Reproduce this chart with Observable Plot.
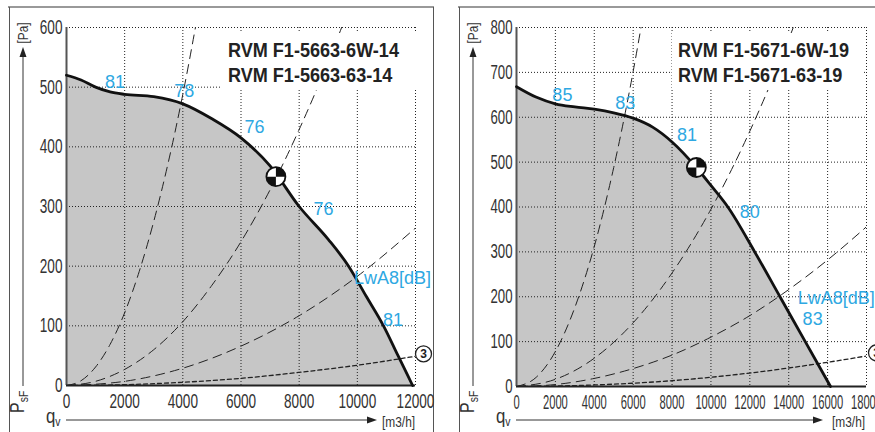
<!DOCTYPE html>
<html>
<head>
<meta charset="utf-8">
<script src="https://cdn.jsdelivr.net/npm/d3@7"></script>
<script src="https://cdn.jsdelivr.net/npm/@observablehq/plot@0.6"></script>
<style>
  body{margin:0;width:875px;height:432px;overflow:hidden;position:relative;background:#fff;
       font-family:"Liberation Sans",Arial,sans-serif;}
  .layer{position:absolute;left:0;top:0;}
  .panel{position:absolute;top:0;width:440px;height:432px;}
  .title{position:absolute;background:#fff;box-sizing:border-box;padding:4px 0 0 6px;overflow:hidden;}
  .title div{font-weight:bold;font-size:21px;line-height:25px;color:#222;white-space:nowrap;
         transform:scaleX(0.86);transform-origin:0 0;font-family:"Liberation Sans",Arial,sans-serif;}
</style>
</head>
<body>
<svg class="layer" width="875" height="432" style="z-index:0">
  <line x1="8" y1="7" x2="434" y2="7" stroke="#999" stroke-width="2"/>
  <line x1="9.5" y1="7" x2="9.5" y2="432" stroke="#555" stroke-width="1"/>
  <line x1="433.5" y1="7" x2="433.5" y2="432" stroke="#555" stroke-width="1"/>
  <line x1="458" y1="7" x2="875" y2="7" stroke="#999" stroke-width="2"/>
  <line x1="459.5" y1="7" x2="459.5" y2="432" stroke="#555" stroke-width="1"/>
</svg>
<div id="left" class="panel" style="left:0;z-index:1"></div>
<div id="right" class="panel" style="left:440px;z-index:1"></div>
<div class="title" style="left:222px;top:33px;width:206px;height:57px;z-index:2"><div>RVM F1-5663-6W-14<br>RVM F1-5663-63-14</div></div>
<div class="title" style="left:672px;top:33px;width:190px;height:57px;z-index:2"><div>RVM F1-5671-6W-19<br>RVM F1-5671-63-19</div></div>
<svg class="layer" width="875" height="432" style="z-index:3" font-family="Liberation Sans, Arial, sans-serif" fill="#333">
  <!-- left panel axis decorations -->
  <line x1="23" y1="54" x2="23" y2="386" stroke="#333" stroke-width="1"/>
  <polygon points="23,47 19.5,57 26.5,57" fill="#222"/>
  <text transform="translate(28,33) rotate(-90) scale(0.85,1)" text-anchor="middle" font-size="14">[Pa]</text>
  <text transform="translate(24,413) rotate(-90) scale(0.8,1)" font-size="20">P<tspan font-size="13" dy="4">sF</tspan></text>
  <text transform="translate(46,423) scale(0.8,1)" font-size="21">q<tspan font-size="13" dy="3">v</tspan></text>
  <line x1="66" y1="420" x2="370" y2="420" stroke="#333" stroke-width="1"/>
  <polygon points="377,420 367,416.5 367,423.5" fill="#222"/>
  <text transform="translate(382,427) scale(0.85,1)" font-size="14">[m3/h]</text>
  <!-- right panel axis decorations -->
  <line x1="473" y1="54" x2="473" y2="386" stroke="#333" stroke-width="1"/>
  <polygon points="473,47 469.5,57 476.5,57" fill="#222"/>
  <text transform="translate(478,33) rotate(-90) scale(0.85,1)" text-anchor="middle" font-size="14">[Pa]</text>
  <text transform="translate(474,413) rotate(-90) scale(0.8,1)" font-size="20">P<tspan font-size="13" dy="4">sF</tspan></text>
  <text transform="translate(496,423) scale(0.8,1)" font-size="21">q<tspan font-size="13" dy="3">v</tspan></text>
  <line x1="516" y1="420" x2="816" y2="420" stroke="#333" stroke-width="1"/>
  <polygon points="823,420 813,416.5 813,423.5" fill="#222"/>
  <text transform="translate(832,427) scale(0.85,1)" font-size="14">[m3/h]</text>
</svg>
<script>
// ---------- LEFT chart data (RVM F1-5663) ----------
const L_xTicks = [0, 2000, 4000, 6000, 8000, 10000, 12000];
const L_yTicks = [0, 100, 200, 300, 400, 500, 600];
const L_mainQ = [0, 500, 1000, 1500, 2000, 3000, 4000, 5000, 6000, 7000, 8000, 9000, 9700, 10300, 10900, 11400, 11900];
const L_mainP = [520, 512, 500, 492, 488, 484, 472, 447, 415, 368, 300, 245, 200, 150, 100, 50, 0];
const L_sys1Q = [0, 500, 1000, 1500, 2000, 2500, 3000, 3500, 4000, 4500];
const L_sys1P = [0, 8, 31, 69, 122, 191, 275, 374, 488, 618];
const L_sys2Q = [0, 1000, 2000, 3000, 4000, 5000, 6000, 7000, 8000, 9000, 9500];
const L_sys2P = [0, 7, 27, 60, 107, 168, 241, 328, 429, 543, 605];
const L_sys3Q = [0, 2000, 4000, 6000, 8000, 10000, 12000];
const L_sys3P = [0, 7, 29, 66, 117, 183, 264];
const L_sys4Q = [0, 2000, 4000, 6000, 8000, 10000, 12000];
const L_sys4P = [0, 1.4, 5.4, 12, 22, 34, 49];
const L_opQ = [7200];
const L_opP = [350];
const L_labText = ["81", "78", "76", "76", "LwA8[dB]", "81"];
const L_labQ = [1670, 4050, 6465, 8840, 11210, 11230];
const L_labP = [509, 493, 433, 296, 180, 109];
const L_c3Q = [12000];
const L_c3P = [53];

// ---------- RIGHT chart data (RVM F1-5671) ----------
const R_xTicks = [0, 2000, 4000, 6000, 8000, 10000, 12000, 14000, 16000, 18000];
const R_yTicks = [0, 100, 200, 300, 400, 500, 600, 700, 800];
const R_mainQ = [0, 1000, 2000, 3000, 4000, 5000, 6000, 7000, 8000, 9250, 10000, 10870, 12250, 13550, 14850, 16150];
const R_mainP = [668, 645, 630, 623, 618, 610, 598, 578, 545, 488, 448, 400, 300, 200, 100, 0];
const R_sys1Q = [0, 1000, 2000, 3000, 4000, 5000, 6000, 6500];
const R_sys1P = [0, 20, 78, 176, 312, 488, 702, 824];
const R_sys2Q = [0, 2000, 4000, 6000, 8000, 10000, 12000, 14000, 14500];
const R_sys2P = [0, 16, 63, 142, 253, 395, 569, 774, 830];
const R_sys3Q = [0, 2000, 4000, 6000, 8000, 10000, 12000, 14000, 16000, 18000];
const R_sys3P = [0, 4.4, 18, 40, 70, 110, 158, 216, 282, 356];
const R_sys4Q = [0, 4000, 8000, 12000, 16000, 18000];
const R_sys4P = [0, 3.4, 13, 30, 54, 68];
const R_opQ = [9250];
const R_opP = [488];
const R_labText = ["85", "83", "81", "80", "LwA8[dB]", "83"];
const R_labQ = [2360, 5590, 8770, 12000, 16440, 15230];
const R_labP = [650, 632, 559, 388, 197, 150];
const R_c3Q = [18000];
const R_c3P = [75];

// ---------- helpers ----------
const pts = (Q, P) => Q.map((q, i) => ({q, p: P[i]}));
const FONT = "Liberation Sans, Arial, sans-serif";
const BLUE = "#2ea8e2";
const quadSymbol = {
  draw(ctx, size) {
    const r = Math.sqrt(size / Math.PI);
    ctx.moveTo(0, 0); ctx.lineTo(0, -r); ctx.arc(0, 0, r, -Math.PI / 2, 0); ctx.closePath();
    ctx.moveTo(0, 0); ctx.lineTo(0, r); ctx.arc(0, 0, r, Math.PI / 2, Math.PI); ctx.closePath();
  }
};

// horizontally condense text (narrow, Helvetica-Condensed-like look) keeping its anchor fixed
function condense(svg, selector, sx) {
  svg.querySelectorAll(selector).forEach(el => {
    const t = el.getAttribute("transform") || "";
    const xa = el.getAttribute("x");
    let extra = "";
    if (xa != null && /^-?[\d.]+$/.test(xa.trim())) {
      extra = `translate(${xa},0)`;
      el.removeAttribute("x");
    }
    el.setAttribute("transform", `${t} ${extra} scale(${sx},1)`.trim());
  });
}

function chart(c) {
  const main = pts(c.mainQ, c.mainP);
  const op = pts(c.opQ, c.opP);
  const labs = c.labText.map((t, i) => ({t, q: c.labQ[i], p: c.labP[i]}));
  const c3 = pts(c.c3Q, c.c3P);
  const longDash = {x: "q", y: "p", stroke: "#222", strokeWidth: 1, strokeDasharray: "9,6", curve: "monotone-x", clip: true};
  const svg = Plot.plot({
    width: 440, height: 432,
    marginLeft: c.ml, marginRight: c.mr, marginTop: 27, marginBottom: c.mb,
    x: {domain: c.xDomain},
    y: {domain: c.yDomain},
    style: {fontFamily: FONT, fontSize: "20px", color: "#333", background: "transparent", maxWidth: "none", overflow: "visible"},
    marks: [
      Plot.areaY(main, {x: "q", y: "p", fill: "#c6c6c6", curve: "monotone-x"}),
      Plot.gridX(c.xTicks, {stroke: "#222", strokeOpacity: 1, strokeWidth: 1, strokeDasharray: "1,2"}),
      Plot.gridY(c.yTicks, {stroke: "#222", strokeOpacity: 1, strokeWidth: 1, strokeDasharray: "1,2"}),
      Plot.axisX(c.xTicks, {tickSize: 0, tickPadding: 8, tickFormat: d => String(d), label: null, fill: "#333"}),
      Plot.axisY(c.yTicks, {tickSize: 0, tickPadding: 4, tickFormat: d => String(d), label: null, fill: "#333"}),
      Plot.line(pts(c.sys1Q, c.sys1P), longDash),
      Plot.line(pts(c.sys2Q, c.sys2P), longDash),
      Plot.line(pts(c.sys3Q, c.sys3P), longDash),
      Plot.line(pts(c.sys4Q, c.sys4P), {x: "q", y: "p", stroke: "#222", strokeWidth: 1.3, strokeDasharray: "4,3", curve: "monotone-x", clip: true}),
      Plot.ruleX([0], {stroke: "#555", strokeWidth: 2}),
      Plot.ruleY([0], {stroke: "#222", strokeWidth: 2}),
      Plot.line(main, {x: "q", y: "p", stroke: "#111", strokeWidth: 2.8, curve: "monotone-x"}),
      Plot.dot(op, {x: "q", y: "p", r: 9.5, fill: "#fff", stroke: "none"}),
      Plot.dot(op, {x: "q", y: "p", r: 9.5, fill: "#111", symbol: quadSymbol, stroke: "none"}),
      Plot.dot(op, {x: "q", y: "p", r: 9.5, fill: "none", stroke: "#111", strokeWidth: 1.8}),
      Plot.text(labs, {x: "q", y: "p", text: "t", fill: BLUE, fontSize: 18, fontFamily: FONT, ariaLabel: "bluelabels"}),
      Plot.dot(c3, {x: "q", y: "p", r: 8, dx: c.c3dx, fill: "#fff", stroke: "#222", strokeWidth: 1.3}),
      Plot.text(c3, {x: "q", y: "p", dx: c.c3dx, text: () => "3", fontSize: 12, fontWeight: "bold", fill: "#222", fontFamily: FONT})
    ]
  });
  condense(svg, 'g[aria-label="x-axis tick label"] text', c.xsx);
  condense(svg, 'g[aria-label="y-axis tick label"] text', c.ysx);
  condense(svg, 'g[aria-label="bluelabels"] text', 0.92);
  return svg;
}

document.getElementById("left").append(chart({
  xDomain: [0, 12000], yDomain: [0, 600], xTicks: L_xTicks, yTicks: L_yTicks,
  mainQ: L_mainQ, mainP: L_mainP,
  sys1Q: L_sys1Q, sys1P: L_sys1P, sys2Q: L_sys2Q, sys2P: L_sys2P,
  sys3Q: L_sys3Q, sys3P: L_sys3P, sys4Q: L_sys4Q, sys4P: L_sys4P,
  opQ: L_opQ, opP: L_opP, labText: L_labText, labQ: L_labQ, labP: L_labP,
  c3Q: L_c3Q, c3P: L_c3P, c3dx: 8,
  ml: 66, mr: 25, mb: 47, xsx: 0.68, ysx: 0.68
}));
document.getElementById("right").append(chart({
  xDomain: [0, 18000], yDomain: [0, 800], xTicks: R_xTicks, yTicks: R_yTicks,
  mainQ: R_mainQ, mainP: R_mainP,
  sys1Q: R_sys1Q, sys1P: R_sys1P, sys2Q: R_sys2Q, sys2P: R_sys2P,
  sys3Q: R_sys3Q, sys3P: R_sys3P, sys4Q: R_sys4Q, sys4P: R_sys4P,
  opQ: R_opQ, opP: R_opP, labText: R_labText, labQ: R_labQ, labP: R_labP,
  c3Q: R_c3Q, c3P: R_c3P, c3dx: 10,
  ml: 76, mr: 14, mb: 46, xsx: 0.56, ysx: 0.66
}));
</script>
</body>
</html>
